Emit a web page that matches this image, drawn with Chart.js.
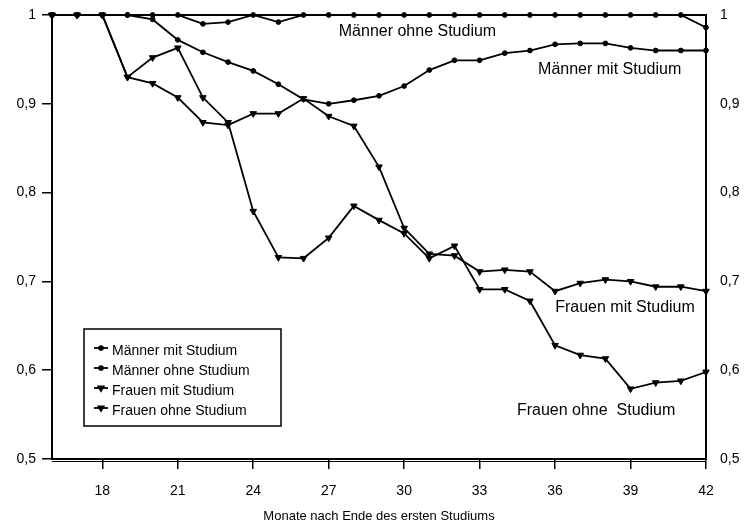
<!DOCTYPE html>
<html>
<head>
<meta charset="utf-8">
<script src="https://cdn.jsdelivr.net/npm/chart.js@4/dist/chart.umd.min.js"></script>
<style>
  html, body { margin: 0; padding: 0; background: #fff; }
  #wrap { width: 745px; height: 524px; }
</style>
</head>
<body>
<div id="wrap"><canvas id="c" width="745" height="524"></canvas></div>
<script>
// Months after end of first studies
const months = [16,17,18,19,20,21,22,23,24,25,26,27,28,29,30,31,32,33,34,35,36,37,38,39,40,41,42];
const xTicks = [18,21,24,27,30,33,36,39,42];
const yTicks = [0.5,0.6,0.7,0.8,0.9,1];

const maennerMit   = [1,1,1,1,0.995,0.972,0.958,0.947,0.937,0.922,0.905,0.900,0.904,0.909,0.920,0.938,0.949,0.949,0.957,0.960,0.967,0.968,0.968,0.963,0.960,0.960,0.960];
const maennerOhne  = [1,1,1,1,1,1,0.990,0.992,1,0.992,1,1,1,1,1,1,1,1,1,1,1,1,1,1,1,1,0.986];
const frauenMit    = [1,1,1,0.930,0.923,0.907,0.879,0.876,0.889,0.889,0.906,0.886,0.875,0.829,0.760,0.731,0.729,0.711,0.713,0.711,0.689,0.698,0.702,0.700,0.694,0.694,0.689];
const frauenOhne   = [1,1,1,0.930,0.952,0.963,0.907,0.879,0.779,0.727,0.726,0.749,0.785,0.769,0.754,0.726,0.740,0.691,0.691,0.678,0.628,0.617,0.613,0.579,0.586,0.588,0.598];

const seriesNames = ['Männer mit Studium','Männer ohne Studium','Frauen mit Studium','Frauen ohne Studium'];

// In-plot labels: text, month, value
const curveLabels = [
  ['Männer ohne Studium', 30.53, 0.981],
  ['Männer mit Studium', 38.17, 0.939],
  ['Frauen mit Studium', 38.78, 0.670],
  ['Frauen ohne  Studium', 37.63, 0.555]
];

const AXIS_FONT = '"Liberation Sans Narrow", "Liberation Sans", Arial, sans-serif';
const TEXT_FONT = '"Liberation Sans", Arial, sans-serif';

function pts(arr) { return months.map((m, i) => ({ x: m, y: arr[i] })); }

const styles = [
  { pointStyle: 'circle', radius: 2.4 },
  { pointStyle: 'circle', radius: 2.4 },
  { pointStyle: 'triangle', radius: 3.8, rotation: 180 },
  { pointStyle: 'triangle', radius: 3.8, rotation: 180 }
];
const seriesData = [maennerMit, maennerOhne, frauenMit, frauenOhne];

const datasets = seriesData.map((arr, i) => ({
  label: seriesNames[i],
  data: pts(arr),
  borderColor: '#000',
  backgroundColor: '#000',
  borderWidth: 1.8,
  pointStyle: styles[i].pointStyle,
  pointRadius: styles[i].radius,
  pointRotation: styles[i].rotation || 0,
  pointBackgroundColor: '#000',
  pointBorderColor: '#000',
  pointBorderWidth: 1,
  tension: 0,
  clip: 4
}));

const fmt = v => (Math.round(v * 10) / 10).toString().replace('.', ',');

// Frame, in-plot labels and boxed legend
const decor = {
  id: 'decor',
  afterDatasetsDraw(chart) {
    const { ctx, chartArea: a, scales } = chart;
    ctx.save();
    ctx.strokeStyle = '#000';
    ctx.lineWidth = 2;
    ctx.strokeRect(a.left, a.top, a.right - a.left, a.bottom - a.top);
    // second rule under the x axis
    ctx.lineWidth = 1;
    ctx.beginPath();
    ctx.moveTo(a.left, a.bottom + 2.5);
    ctx.lineTo(a.right, a.bottom + 2.5);
    ctx.stroke();

    ctx.fillStyle = '#000';
    ctx.font = '16px ' + TEXT_FONT;
    ctx.textAlign = 'center';
    ctx.textBaseline = 'middle';
    curveLabels.forEach(([t, mx, v]) => {
      ctx.fillText(t, scales.x.getPixelForValue(mx), scales.y.getPixelForValue(v));
    });

    // legend box
    const bx = 84, by = 329, bw = 197, bh = 97;
    ctx.fillStyle = '#fff';
    ctx.fillRect(bx, by, bw, bh);
    ctx.lineWidth = 1.5;
    ctx.strokeRect(bx, by, bw, bh);
    ctx.fillStyle = '#000';
    ctx.font = '14px ' + TEXT_FONT;
    ctx.textAlign = 'left';
    chart.data.datasets.forEach((ds, i) => {
      const y = 350 + i * 20;
      ctx.lineWidth = 1.8;
      ctx.beginPath();
      ctx.moveTo(94, y - 2);
      ctx.lineTo(108, y - 2);
      ctx.stroke();
      Chart.helpers.drawPoint(ctx, {
        pointStyle: ds.pointStyle,
        radius: ds.pointRadius * 0.8,
        rotation: ds.pointRotation,
        borderWidth: 1
      }, 101, y - 2);
      ctx.fillText(ds.label, 112, y + 1);
    });
    ctx.restore();
  }
};

const yFit = w => s => { s.width = w; s.paddingTop = 0; s.paddingBottom = 0; };

new Chart(document.getElementById('c'), {
  type: 'line',
  data: { datasets },
  options: {
    responsive: false,
    animation: false,
    layout: { padding: { top: 15, left: 0, right: 0, bottom: 0 } },
    plugins: { legend: { display: false }, tooltip: { enabled: false } },
    scales: {
      x: {
        type: 'linear',
        min: 16, max: 42,
        afterBuildTicks: s => { s.ticks = xTicks.map(v => ({ value: v })); },
        afterFit: s => { s.height = 65; s.paddingLeft = 0; s.paddingRight = 0; },
        grid: { drawOnChartArea: false, drawTicks: true, tickLength: 10, color: '#000', lineWidth: 1.5 },
        border: { display: true, color: '#000', width: 2 },
        ticks: { color: '#000', font: { family: AXIS_FONT, size: 14 }, padding: 14, maxRotation: 0, autoSkip: false },
        title: { display: true, text: 'Monate nach Ende des ersten Studiums', color: '#000',
                 font: { family: AXIS_FONT, size: 13 }, padding: { top: 0, bottom: 0 } }
      },
      y: {
        position: 'left',
        min: 0.5, max: 1,
        afterBuildTicks: s => { s.ticks = yTicks.map(v => ({ value: v })); },
        afterFit: yFit(52),
        grid: { drawOnChartArea: false, drawTicks: true, tickLength: 10, color: '#000', lineWidth: 1.5 },
        border: { display: true, color: '#000', width: 2 },
        ticks: { color: '#000', font: { family: AXIS_FONT, size: 14 }, padding: 6, callback: v => fmt(v) }
      },
      y2: {
        position: 'right',
        min: 0.5, max: 1,
        afterBuildTicks: s => { s.ticks = yTicks.map(v => ({ value: v })); },
        afterFit: yFit(39),
        grid: { drawOnChartArea: false, drawTicks: false },
        border: { display: true, color: '#000', width: 2 },
        ticks: { color: '#000', font: { family: AXIS_FONT, size: 14 }, padding: 14, callback: v => fmt(v) }
      }
    }
  },
  plugins: [decor]
});
</script>
</body>
</html>
